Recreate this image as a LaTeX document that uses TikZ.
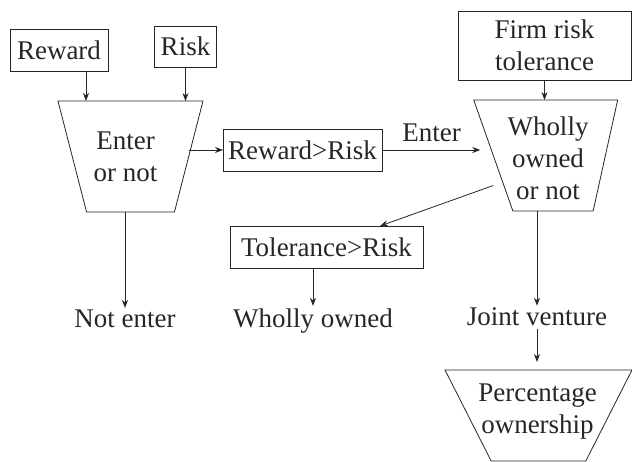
\documentclass[tikz,border=0pt]{standalone}
\usepackage{fontspec}
\setmainfont{Liberation Serif}
\usetikzlibrary{shapes.geometric,arrows.meta}

\begin{document}
\begin{tikzpicture}[
        x=1pt, y=-1pt,
        every node/.style={font=\fontsize{27}{32}\selectfont, align=center},
        box/.style={draw, rectangle, inner sep=0pt, outer sep=0pt},
        funnel/.style={draw, trapezium, shape border rotate=180, trapezium stretches=true, inner sep=2pt, outer sep=0pt},
        lbl/.style={anchor=base, inner sep=2pt},
        arr/.style={-{Stealth[length=8pt,width=6pt]}},
        line width=0.8pt, black!85,
    ]
	\useasboundingbox (0,0) rectangle (632,462);
	\node[box, minimum width=98pt, minimum height=42pt] (reward) at (59,50) {Reward};
	\node[box, minimum width=62pt, minimum height=41pt] (risk) at (185.5,46.5) {Risk};
	\node[funnel, trapezium angle=72, minimum width=145pt, minimum height=111pt] (enter) at (130.5,156.5) {};
	\node (entertxt) at (125.5,157) {Enter\\or not};
	\node[box, minimum width=159pt, minimum height=42pt] (rr) at (302.5,150) {Reward>Risk};
	\node[box, minimum width=173pt, minimum height=69pt] (firm) at (544.5,45.5) {Firm risk\\tolerance};
	\node[funnel, trapezium left angle=73, trapezium right angle=64, minimum width=144pt, minimum height=111pt] (wholly) at (553,155.5) {};
	\node (whollytxt) at (548,158) {Wholly\\owned\\or not};
	\node[box, minimum width=193pt, minimum height=42pt] (tol) at (326.5,247) {Tolerance>Risk};
	\node[lbl] (ne) at (125,328) {Not enter};
	\node[lbl] (wo) at (313,327) {Wholly owned};
	\node[lbl] (jv) at (537,326) {Joint venture};
	\node[funnel, trapezium angle=64, minimum width=187pt, minimum height=91pt] (pct) at (538.5,415.5) {};
	\node (pcttxt) at (537.5,412) {Percentage\\ownership};

	\coordinate (rwout) at ([xshift=27pt]reward.south);
	\draw[arr] (rwout) -- (rwout |- enter.north);
	\draw[arr] (risk.south) -- (risk.south |- enter.north);
	\draw[arr] (enter.east |- rr.west) -- (rr.west);
	\draw[arr] (enter.south -| ne.north) -- (ne.north);
	\draw[arr, shorten >=13pt] (rr.east) -- (rr.east -| wholly.west) node[midway, above=8pt, inner sep=0pt, xshift=-6pt] {Enter};
	\draw[arr] (firm.south) -- (firm.south |- wholly.north);
	\draw[arr] ([yshift=-30pt]wholly.west) -- ([xshift=53.5pt]tol.north);
	\draw[arr] (tol.south -| wo.north) -- (wo.north);
	\draw[arr] (wholly.south -| jv.north) -- (jv.north);
	\draw[arr, shorten >=8pt] (jv.south) -- (jv.south |- pct.north);
\end{tikzpicture}
\end{document}
